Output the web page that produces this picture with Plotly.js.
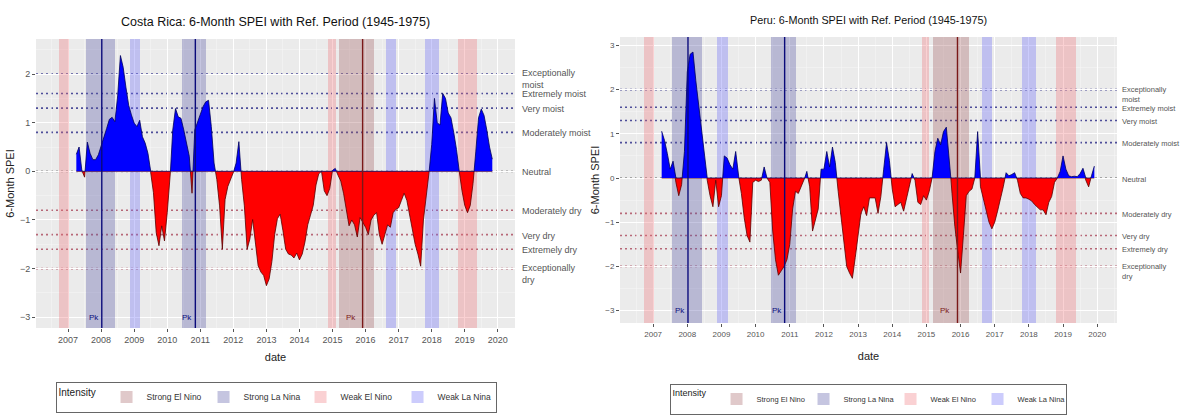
<!DOCTYPE html>
<html>
<head>
<meta charset="utf-8">
<script src="https://cdn.plot.ly/plotly-3.0.1.min.js"></script>
<style>
  html, body { margin: 0; padding: 0; background: #ffffff; }
  #chart { width: 1182px; height: 419px; }
</style>
</head>
<body>
<div id="chart"></div>
<script>
// Monthly 6-month SPEI (reference period 1945-1975); first value is April 2007
const crStart = '2007-04';
const crSpei = [
  0.35, 0.5, 0.02, -0.12, 0.6, 0.37, 0.24, 0.24, 0.34,
  0.51, 0.68, 0.88, 1.07, 1.11, 1.02, 1.55, 2.38, 2.14, 1.73, 1.36, 1.16,
  0.99, 0.92, 1.05, 0.71, 0.58, 0.37, -0.03, -0.44, -1.26, -1.53, -1.12, -1.43,
  -0.85, -0.17, 0.85, 1.29, 1.12, 1.09, 0.85, 0.58, 0.31, -0.45, 0.85, 1.02,
  1.19, 1.33, 1.43, 1.46, 0.92, 0.17, -0.17, -0.71, -1.6, -0.58, -0.31, -0.17,
  -0.03, 0.17, 0.61, -0.17, -0.71, -1.6, -1.39, -0.99, -1.53, -1.94, -2.07, -2.14,
  -2.35, -2.21, -1.85, -1.3, -0.97, -0.88, -1.22, -1.6, -1.7, -1.72, -1.78, -1.68,
  -1.82, -1.7, -1.45, -1.1, -0.9, -0.7, -0.28, -0.05, 0.0, -0.4, -0.5, -0.35,
  0.02, 0.06, -0.08, -0.2, -0.45, -0.82, -1.12, -1.0, -1.1, -1.35, -0.95, -1.05,
  -1.15, -1.3, -1.0, -0.9, -0.85, -1.3, -1.5, -1.3, -1.1, -1.15, -0.85, -0.78,
  -0.75, -0.6, -0.45, -0.6, -0.92, -1.25, -1.5, -1.7, -1.95, -1.0, -0.45, -0.05,
  0.55, 1.5, 1.0, 0.95, 1.6, 1.5, 1.2, 1.1, 0.8, 0.45, 0.0, -0.4,
  -0.7, -0.85, -0.7, -0.25, 0.4, 1.1, 1.28, 1.15, 0.85, 0.5, 0.25
];

const peStart = '2007-04';
const peSpei = [
  1.06, 0.85, 0.55, 0.2, 0.38, -0.1, -0.4, -0.15, 0.6,
  2.4, 2.8, 2.85, 2.2, 1.65, 1.1, 0.5, -0.05, -0.4, -0.65, -0.05, -0.65,
  -0.4, 0.5, 0.45, 0.3, 0.2, 0.6, 0.05, -0.35, -0.9, -1.3, -1.45, -0.1,
  -0.05, -0.08, -0.05, 0.25, 0.0, -0.1, -1.2, -1.85, -2.2, -2.1, -2.0, -1.85,
  -1.5, -0.7, -0.3, -0.35, -0.2, -0.05, 0.15, -0.2, -1.2, -0.95, -0.7, 0.2,
  0.2, 0.6, 0.25, 0.7, 0.35, -0.3, -0.9, -1.55, -2.0, -2.15, -2.27, -1.8,
  -1.3, -0.8, -0.65, -0.85, -0.45, -0.45, -0.45, -0.8, -0.42, 0.2, 0.8, 0.4,
  -0.25, -0.65, -0.6, -0.55, -0.75, -0.45, -0.2, 0.1, -0.05, -0.55, -0.6, -0.4,
  -0.5, -0.3, 0.0, 0.6, 0.9, 0.75, 1.05, 1.15, 0.5, -0.35, -1.1, -1.65,
  -2.15, -1.3, -0.4, -0.3, -0.25, 0.0, 1.05, -0.2, -0.45, -0.75, -1.0, -1.15,
  -1.0, -0.75, -0.5, -0.2, 0.12, 0.05, 0.08, 0.12, -0.05, -0.35, -0.45, -0.45,
  -0.48, -0.52, -0.6, -0.65, -0.72, -0.72, -0.83, -0.55, -0.42, -0.1, 0.0, 0.15,
  0.5, 0.2, 0.05, 0.03, 0.04, 0.03, 0.1, 0.22, -0.05, -0.2, 0.05, 0.27
];

// ENSO episodes, in decimal years
const ensoType  = ['Weak El Nino', 'Strong La Nina', 'Weak La Nina', 'Strong La Nina', 'Weak El Nino',
                   'Strong El Nino', 'Weak La Nina', 'Weak La Nina', 'Weak El Nino'];
const ensoStart = [2006.72, 2007.55, 2008.88, 2010.45, 2014.86, 2015.20, 2016.63, 2017.79, 2018.79];
const ensoEnd   = [2007.03, 2008.43, 2009.18, 2011.17, 2015.09, 2016.25, 2016.92, 2018.22, 2019.38];
const intensityLevels = ['Strong El Nino', 'Strong La Nina', 'Weak El Nino', 'Weak La Nina'];

// Peak months of the strong events
const peakDates = [2008.02, 2010.85, 2015.91];
const peakPhase = ['La Nina', 'La Nina', 'El Nino'];

// SPEI category thresholds
const levelValues = [2, 1.6, 1.3, 0.8, 0, -0.8, -1.3, -1.6, -2];
const levelLabels = ['Exceptionally<br>moist', 'Extremely moist', 'Very moist', 'Moderately moist', 'Neutral',
                     'Moderately dry', 'Very dry', 'Extremely dry', 'Exceptionally<br>dry'];

const yearTicks = [2007, 2008, 2009, 2010, 2011, 2012, 2013, 2014, 2015, 2016, 2017, 2018, 2019, 2020];

// ---- styling ----
const bandColors = {
  'Strong El Nino': 'rgba(160,90,95,0.33)',
  'Strong La Nina': 'rgba(90,90,165,0.35)',
  'Weak El Nino':   'rgba(240,115,120,0.33)',
  'Weak La Nina':   'rgba(110,110,245,0.35)'
};
const peakColors = { 'La Nina': '#0a0a7a', 'El Nino': '#7a1818' };
const FONT = 'Liberation Sans, Arial, sans-serif';

function monthIndexToYear(start, i) {
  const [y, m] = start.split('-').map(Number);
  return y + (m - 1 + i) / 12;
}

function splitSeries(xs, ys) {
  const px = [], py = [], nx = [], ny = [];
  for (let i = 0; i < ys.length; i++) {
    const x = xs[i], y = ys[i];
    px.push(x); py.push(Math.max(y, 0));
    nx.push(x); ny.push(Math.min(y, 0));
    if (i < ys.length - 1) {
      const y2 = ys[i + 1];
      if ((y > 0 && y2 < 0) || (y < 0 && y2 > 0)) {
        const xc = x + (xs[i + 1] - x) * y / (y - y2);
        px.push(xc); py.push(0); nx.push(xc); ny.push(0);
      }
    }
  }
  return { px, py, nx, ny };
}

const traces = [];
const shapes = [];
const annotations = [];

const panels = [
  { start: crStart, spei: crSpei, xa: 'x',  ya: 'y',  legend: 'legend',  yr: [-3.22, 2.72],
    title: 'Costa Rica: 6-Month SPEI with Ref. Period (1945-1975)', titleSize: 12.5, lblSize: 9 },
  { start: peStart, spei: peSpei, xa: 'x2', ya: 'y2', legend: 'legend2', yr: [-3.28, 3.19],
    title: 'Peru: 6-Month SPEI with Ref. Period (1945-1975)', titleSize: 10.8, lblSize: 7.5 }
];

panels.forEach((p, pi) => {
  // ENSO bands as full-height bars, one trace per intensity
  intensityLevels.forEach(level => {
    const idx = ensoType.map((t, i) => t === level ? i : -1).filter(i => i >= 0);
    traces.push({
      type: 'bar',
      xaxis: p.xa, yaxis: p.ya,
      x: idx.map(i => (ensoStart[i] + ensoEnd[i]) / 2),
      width: idx.map(i => ensoEnd[i] - ensoStart[i]),
      base: idx.map(() => p.yr[0]),
      y: idx.map(() => p.yr[1] - p.yr[0]),
      marker: { color: bandColors[level], line: { width: 0 } },
      name: level,
      legend: p.legend,
      showlegend: true,
      hoverinfo: 'skip'
    });
  });

  // SPEI area, blue above zero and red below
  const xs = p.spei.map((_, i) => monthIndexToYear(p.start, i));
  const s = splitSeries(xs, p.spei);
  traces.push({
    type: 'scatter', mode: 'lines', xaxis: p.xa, yaxis: p.ya,
    x: s.nx, y: s.ny, fill: 'tozeroy', fillcolor: '#ff0000',
    line: { color: '#5a0000', width: 0.8 }, showlegend: false, hoverinfo: 'skip'
  });
  traces.push({
    type: 'scatter', mode: 'lines', xaxis: p.xa, yaxis: p.ya,
    x: s.px, y: s.py, fill: 'tozeroy', fillcolor: '#0000ff',
    line: { color: '#00005a', width: 0.8 }, showlegend: false, hoverinfo: 'skip'
  });

  const dom = p.xa === 'x' ? 'x domain' : 'x2 domain';

  // category threshold lines with labels in the right margin
  levelValues.forEach((v, i) => {
    const col = v > 0 ? 'rgba(50,50,140,0.85)' : (v < 0 ? 'rgba(170,70,90,0.8)' : 'rgba(130,130,130,0.9)');
    shapes.push({
      type: 'line', layer: 'below', xref: dom, yref: p.ya,
      x0: 0, x1: 1, y0: v, y1: v,
      line: { color: col, width: 1.6, dash: '2px,3px' }
    });
    const twoLine = levelLabels[i].indexOf('<br>') >= 0;
    annotations.push({
      xref: dom, yref: p.ya, x: 1, y: v, xanchor: 'left', yanchor: 'middle',
      xshift: pi === 0 ? 5 : 3, yshift: twoLine ? -5 : -1, align: 'left', showarrow: false,
      text: levelLabels[i],
      font: { family: FONT, size: p.lblSize, color: '#555555' }
    });
  });

  // peak markers
  peakDates.forEach((d, i) => {
    const col = peakColors[peakPhase[i]];
    shapes.push({
      type: 'line', layer: 'above', xref: p.xa, yref: p.ya,
      x0: d, x1: d, y0: p.yr[0], y1: p.yr[1],
      line: { color: col, width: 1.4 }
    });
    annotations.push({
      xref: p.xa, yref: p.ya, x: d, y: -3.0, xanchor: 'right', yanchor: 'middle',
      xshift: peakPhase[i] === 'El Nino' ? -5 : -1, showarrow: false, text: 'Pk',
      font: { family: FONT, size: 8, color: col }
    });
  });

  // panel title
  annotations.push({
    xref: dom, yref: 'paper', x: 0.5, y: pi === 0 ? 1 - 22 / 419 : 1 - 20 / 419,
    xanchor: 'center', yanchor: 'middle', showarrow: false, text: p.title,
    font: { family: FONT, size: p.titleSize, color: '#111111' }
  });
});

function xAxis(domain, range, size, standoff) {
  return {
    domain: domain, range: range, anchor: domain[0] < 0.5 ? 'y' : 'y2',
    tickmode: 'array', tickvals: yearTicks, ticktext: yearTicks.map(String),
    ticks: 'outside', ticklen: 3, tickcolor: '#555', tickwidth: 1,
    tickfont: { family: FONT, size: size, color: '#555555' },
    showgrid: true, gridcolor: '#ffffff', gridwidth: 1,
    minor: { tickvals: yearTicks.map(y => y - 0.5).concat([2020.5]), showgrid: true, gridcolor: '#f7f7f7', gridwidth: 0.5 },
    zeroline: false, showline: false, fixedrange: true,
    title: { text: 'date', font: { family: FONT, size: 11, color: '#222' }, standoff: standoff }
  };
}
function yAxis(domain, range, ticks, size) {
  return {
    domain: domain, range: range, anchor: domain[0] < 0.225 ? 'x' : 'x2',
    tickmode: 'array', tickvals: ticks,
    ticks: 'outside', ticklen: 3, tickcolor: '#555', tickwidth: 1,
    tickfont: { family: FONT, size: size, color: '#555555' },
    showgrid: true, gridcolor: '#ffffff', gridwidth: 1,
    minor: { dtick: 0.5, showgrid: true, gridcolor: '#f7f7f7', gridwidth: 0.5 },
    zeroline: false, showline: false, fixedrange: true,
    title: { text: '6-Month SPEI', font: { family: FONT, size: 11, color: '#222' }, standoff: 3 }
  };
}

const legendBase = {
  orientation: 'h', xanchor: 'center', yanchor: 'middle',
  bgcolor: '#ffffff', bordercolor: '#666666', borderwidth: 1,
  itemsizing: 'constant', traceorder: 'normal', itemwidth: 30,
  entrywidthmode: 'pixels'
};

const layout = {
  width: 1182, height: 419,
  margin: { l: 0, r: 0, t: 0, b: 0 },
  paper_bgcolor: '#ffffff', plot_bgcolor: '#ebebeb',
  barmode: 'overlay', bargap: 0,
  showlegend: true,
  xaxis:  xAxis([36 / 1182, 515 / 1182], [2006.03, 2020.52], 9, 9),
  yaxis:  yAxis([1 - 328 / 419, 1 - 39 / 419], [-3.22, 2.72], [-3, -2, -1, 0, 1, 2], 9),
  xaxis2: xAxis([620 / 1182, 1117 / 1182], [2006.03, 2020.58], 8, 14),
  yaxis2: yAxis([1 - 323 / 419, 1 - 37 / 419], [-3.28, 3.19], [-3, -2, -1, 0, 1, 2, 3], 8),
  legend: Object.assign({}, legendBase, {
    x: 276 / 1182, y: 1 - 397 / 419, entrywidth: 52,
    font: { family: FONT, size: 8.5, color: '#333' },
    title: { text: 'Intensity ', side: 'left', font: { family: FONT, size: 10, color: '#222' } }
  }),
  legend2: Object.assign({}, legendBase, {
    x: 868 / 1182, y: 1 - 399 / 419, entrywidth: 42,
    font: { family: FONT, size: 7.5, color: '#333' },
    title: { text: 'Intensity ', side: 'left', font: { family: FONT, size: 9, color: '#222' } }
  }),
  shapes: shapes,
  annotations: annotations
};

Plotly.newPlot('chart', traces, layout, { staticPlot: true, displayModeBar: false });
</script>
</body>
</html>
